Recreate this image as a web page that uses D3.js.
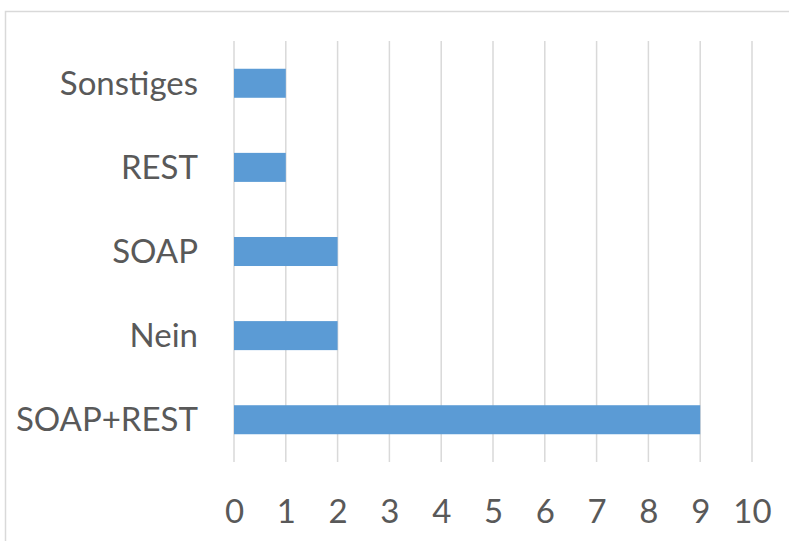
<!DOCTYPE html>
<html>
<head>
<meta charset="utf-8">
<script src="https://cdn.jsdelivr.net/npm/d3@7"></script>
<style>
  html, body { margin: 0; padding: 0; background: #fff; }
  svg { display: block; }
</style>
</head>
<body>
<script>
// Categories top to bottom, with their counts
const categories = ["Sonstiges", "REST", "SOAP", "Nein", "SOAP+REST"];
const values = [1, 1, 2, 2, 9];
const tickValues = [0, 1, 2, 3, 4, 5, 6, 7, 8, 9, 10];

const W = 789, H = 541;
const plot = { left: 234, right: 752, top: 41, bottom: 462 };

const svg = d3.select("body").append("svg")
  .attr("width", W).attr("height", H);

// chart frame (runs past the right and bottom edges)
svg.append("rect")
  .attr("x", 5.5).attr("y", 11.5)
  .attr("width", 900).attr("height", 700)
  .attr("fill", "none")
  .attr("stroke", "#d9d9d9")
  .attr("stroke-width", 1.5);

const x = d3.scaleLinear().domain([0, 10]).range([plot.left, plot.right]);
const y = d3.scaleBand().domain(categories)
  .range([plot.top, plot.bottom]).paddingInner(0.655).paddingOuter(0.33);

// vertical gridlines
svg.append("g").selectAll("line").data(tickValues).join("line")
  .attr("x1", d => x(d)).attr("x2", d => x(d))
  .attr("y1", plot.top).attr("y2", plot.bottom)
  .attr("stroke", "#d9d9d9").attr("stroke-width", 1.5);

// bars
svg.append("g").selectAll("rect").data(categories).join("rect")
  .attr("x", x(0))
  .attr("y", d => y(d))
  .attr("width", (d, i) => x(values[i]) - x(0))
  .attr("height", y.bandwidth())
  .attr("fill", "#5b9bd5");

const font = "Lato, 'Open Sans', sans-serif";

// category labels
const yAxis = d3.axisLeft(y).tickSize(0).tickPadding(0);
svg.append("g")
  .attr("transform", `translate(${plot.left - 36},0)`)
  .call(yAxis)
  .call(g => g.select(".domain").remove())
  .call(g => g.selectAll("text")
    .attr("fill", "#595959")
    .attr("font-family", font)
    .attr("font-size", 33)
    .attr("dy", "0.35em"));

// value axis labels
const xAxis = d3.axisBottom(x).tickValues(tickValues).tickSize(0).tickPadding(0)
  .tickFormat(d3.format("d"));
svg.append("g")
  .attr("transform", `translate(0,${511})`)
  .call(xAxis)
  .call(g => g.select(".domain").remove())
  .call(g => g.selectAll("text")
    .attr("fill", "#595959")
    .attr("font-family", font)
    .attr("font-size", 33)
    .attr("dy", "0.35em"));
</script>
</body>
</html>
